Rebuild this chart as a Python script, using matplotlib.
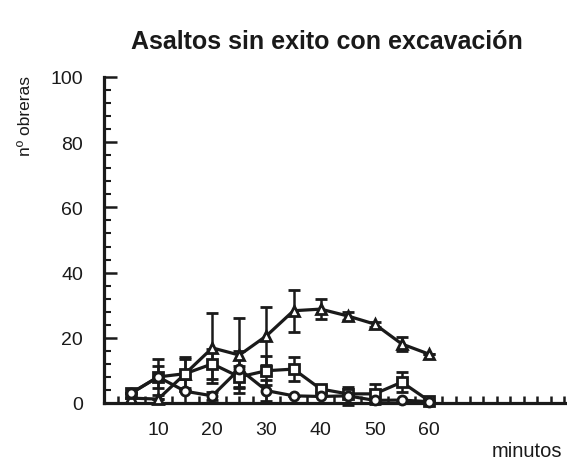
import numpy as np
import matplotlib.pyplot as plt
from matplotlib.ticker import MultipleLocator

plt.rcParams['font.family'] = ['Liberation Sans', 'DejaVu Sans']

# Datos: minutos y número de obreras (media y error)
minutos = [5, 10, 15, 20, 25, 30, 35, 40, 45, 50, 55, 60]

triangulos = [1.5, 1.2, 9.0, 16.9, 14.7, 20.6, 28.3, 28.8, 26.7, 24.2, 18.1, 15.0]
err_triangulos = [0, 0, 5.0, 10.8, 11.5, 8.8, 6.5, 3.0, 1.3, 0.8, 2.0, 0]

cuadrados = [3.0, 8.0, 9.0, 12.0, 8.0, 9.9, 10.4, 4.3, 2.8, 2.8, 6.4, 0.7]
err_cuadrados = [0, 5.5, 4.5, 4.5, 3.5, 4.5, 3.7, 1.0, 0, 3.0, 3.0, 0]

circulos = [3.0, 8.0, 3.6, 2.2, 10.4, 3.8, 2.2, 2.0, 2.2, 0.8, 0.9, 0.4]
err_circulos = [0, 3.5, 0, 1.2, 5.5, 3.2, 0, 0, 2.8, 0, 0, 0]

ink = '#1a1a1a'

fig = plt.figure(figsize=(5.67, 4.64), dpi=100)
ax = fig.add_axes([104 / 567, 60 / 464, 463 / 567, 326 / 464])

series = [
    (triangulos, err_triangulos, '^'),
    (cuadrados, err_cuadrados, 's'),
    (circulos, err_circulos, 'o'),
]
for vals, errs, mk in series:
    ax.errorbar(minutos, vals, yerr=errs, color=ink, lw=2.3, elinewidth=1.8,
                capsize=4.5, capthick=1.8, marker=mk, ms=6.5, mfc='white',
                mec=ink, mew=2, clip_on=False, zorder=3)

ax.set_xlim(0, 85.5)
ax.set_ylim(0, 100)

# Ejes estilo gráfico de imprenta: solo izquierda y abajo
for s in ['top', 'right']:
    ax.spines[s].set_visible(False)
for s in ['left', 'bottom']:
    ax.spines[s].set_linewidth(2.3)
    ax.spines[s].set_color(ink)

ax.set_xticks([10, 20, 30, 40, 50, 60])
ax.xaxis.set_minor_locator(MultipleLocator(2.5))
ax.yaxis.set_major_locator(MultipleLocator(20))
ax.yaxis.set_minor_locator(MultipleLocator(4))

ax.tick_params(axis='x', which='both', direction='in', length=5, width=1.8,
               color=ink, labelsize=14, pad=13, labelcolor=ink)
ax.tick_params(axis='y', which='major', direction='in', length=9, width=1.8,
               color=ink, labelsize=14, pad=15, labelcolor=ink)
ax.tick_params(axis='y', which='minor', direction='in', length=5, width=1.5,
               color=ink)

fig.text(327 / 567, 1 - 42 / 464, 'Asaltos sin exito con excavación',
         ha='center', va='center', fontsize=18, fontweight='bold', color=ink)
fig.text(26 / 567, 1 - 116 / 464, 'nº obreras', rotation=90,
         ha='center', va='center', fontsize=12.5, color=ink)
fig.text(527 / 567, 1 - 452 / 464, 'minutos', ha='center', va='center',
         fontsize=14.5, color=ink)

fig.savefig('out.png', dpi=100)
